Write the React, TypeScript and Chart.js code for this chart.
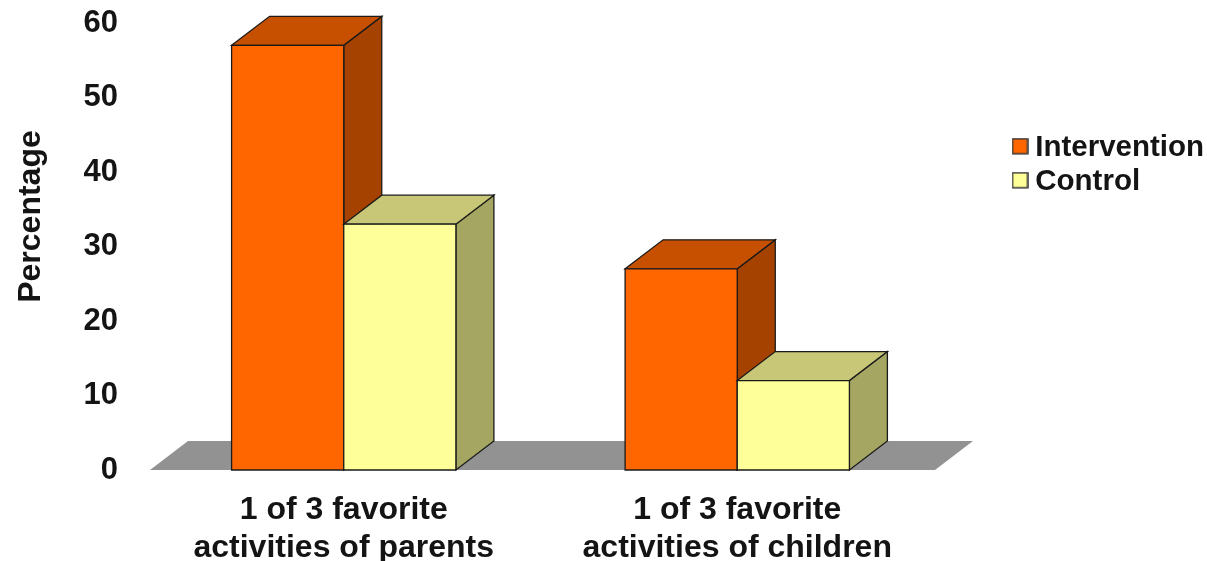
import React, { useEffect, useRef } from "react";
import { Chart, registerables } from "chart.js";

Chart.register(...registerables);

const categories = [
  ["1 of 3 favorite", "activities of parents"],
  ["1 of 3 favorite", "activities of children"],
];
const intervention = [57, 27];
const control = [33, 12];
const yTicks = [0, 10, 20, 30, 40, 50, 60];
const FONT = "'Liberation Sans', Arial, sans-serif";
const INK = "#141414";
const DX = 38;
const DY = 29;

const shade = (c: string, f: number) => {
  const n = parseInt(c.slice(1), 16);
  const p = (s: number) => Math.round(((n >> s) & 255) * f);
  return `rgb(${p(16)},${p(8)},${p(0)})`;
};

const poly = (ctx: CanvasRenderingContext2D, pts: number[][], fill: string, stroke = true) => {
  ctx.beginPath();
  pts.forEach((p, i) => (i ? ctx.lineTo(p[0], p[1]) : ctx.moveTo(p[0], p[1])));
  ctx.closePath();
  ctx.fillStyle = fill;
  ctx.fill();
  if (stroke) {
    ctx.strokeStyle = "#1a1a1a";
    ctx.lineWidth = 1.3;
    ctx.stroke();
  }
};

const swatch = (color: string) => {
  const c = document.createElement("canvas");
  c.width = 17;
  c.height = 21;
  const x = c.getContext("2d")!;
  x.fillStyle = color;
  x.fillRect(1, 1, 15, 15);
  x.strokeStyle = "#333333";
  x.lineWidth = 1.5;
  x.strokeRect(1, 1, 15, 15);
  return c;
};

const threeD = {
  id: "threeD",
  afterLayout(chart: any) {
    const lg = chart.legend;
    if (lg) {
      lg.left = 1015;
      lg.right = 1207;
      lg.top = 129;
      lg.bottom = 205;
      lg.draw = () => lg._draw();
    }
  },
  beforeDatasetsDraw(chart: any) {
    const { ctx, chartArea, scales } = chart;
    const y0 = scales.y.getPixelForValue(0);
    const l = chartArea.left;
    const r = chartArea.right;
    poly(ctx, [[l + 3, y0], [r + 1, y0], [r + 1 + DX, y0 - DY], [l + 3 + DX, y0 - DY]], "#929292", false);
  },
  afterDatasetsDraw(chart: any) {
    const { ctx } = chart;
    const count = chart.data.labels.length;
    for (let i = 0; i < count; i++) {
      chart.data.datasets.forEach((ds: any, d: number) => {
        const el = chart.getDatasetMeta(d).data[i];
        const left = el.x - el.width / 2;
        const right = el.x + el.width / 2;
        const top = el.y;
        const base = el.base;
        poly(ctx, [[right, top], [right + DX, top - DY], [right + DX, base - DY], [right, base]], shade(ds.backgroundColor, 0.65));
        poly(ctx, [[left, top], [left + DX, top - DY], [right + DX, top - DY], [right, top]], shade(ds.backgroundColor, 0.78));
        poly(ctx, [[left, top], [right, top], [right, base], [left, base]], ds.backgroundColor);
      });
    }
  },
};

export default function App() {
  const ref = useRef<HTMLCanvasElement>(null);
  useEffect(() => {
    const chart = new Chart(ref.current!, {
      type: "bar",
      data: {
        labels: categories as any,
        datasets: [
          { label: "Intervention", data: intervention, backgroundColor: "#ff6600", borderWidth: 0, categoryPercentage: 0.57, barPercentage: 1 },
          { label: "Control", data: control, backgroundColor: "#ffff99", borderWidth: 0, categoryPercentage: 0.57, barPercentage: 1 },
        ],
      },
      options: {
        animation: false,
        responsive: false,
        devicePixelRatio: 1,
        layout: { padding: { left: 12, right: 273, top: 23, bottom: 0 } },
        plugins: {
          tooltip: { enabled: false },
          legend: {
            position: "chartArea",
            align: "start",
            labels: {
              color: INK,
              font: { family: FONT, size: 29.5, weight: "bold" },
              usePointStyle: true,
              boxWidth: 1,
              boxHeight: 16,
              padding: 4.5,
              generateLabels: (c: any) =>
                c.data.datasets.map((ds: any, i: number) => ({
                  text: ds.label,
                  fillStyle: ds.backgroundColor,
                  strokeStyle: "#333333",
                  lineWidth: 1.3,
                  pointStyle: swatch(ds.backgroundColor),
                  datasetIndex: i,
                  fontColor: INK,
                })),
            },
          },
        },
        scales: {
          x: {
            grid: { display: false },
            border: { display: false },
            afterFit: (s: any) => {
              s.height = 91;
            },
            ticks: {
              color: INK,
              font: { family: FONT, size: 32, weight: "bold", lineHeight: 1.16 },
              maxRotation: 0,
              autoSkip: false,
              padding: 14,
            },
          },
          y: {
            min: 0,
            max: 60,
            grid: { display: false },
            border: { display: false },
            afterBuildTicks: (s: any) => {
              s.ticks = yTicks.map((v) => ({ value: v }));
            },
            afterFit: (s: any) => {
              s.width = 135;
              s.paddingTop = 0;
              s.paddingBottom = 0;
            },
            afterUpdate: (s: any) => {
              if (!s.__titleShifted) {
                const draw = s.drawTitle.bind(s);
                s.drawTitle = () => {
                  s.ctx.save();
                  s.ctx.translate(0, -30);
                  draw();
                  s.ctx.restore();
                };
                s.__titleShifted = true;
              }
            },
            ticks: {
              color: INK,
              font: { family: FONT, size: 31, weight: "bold" },
              padding: 21,
            },
            title: {
              display: true,
              text: "Percentage",
              color: INK,
              font: { family: FONT, size: 32, weight: "bold" },
              padding: 0,
            },
          },
        },
      } as any,
      plugins: [threeD],
    });
    return () => chart.destroy();
  }, []);
  return (
    <canvas
      ref={ref}
      width={1207}
      height={561}
      style={{ position: "absolute", left: 0, top: 0, width: 1207, height: 561, display: "block" }}
    />
  );
}
